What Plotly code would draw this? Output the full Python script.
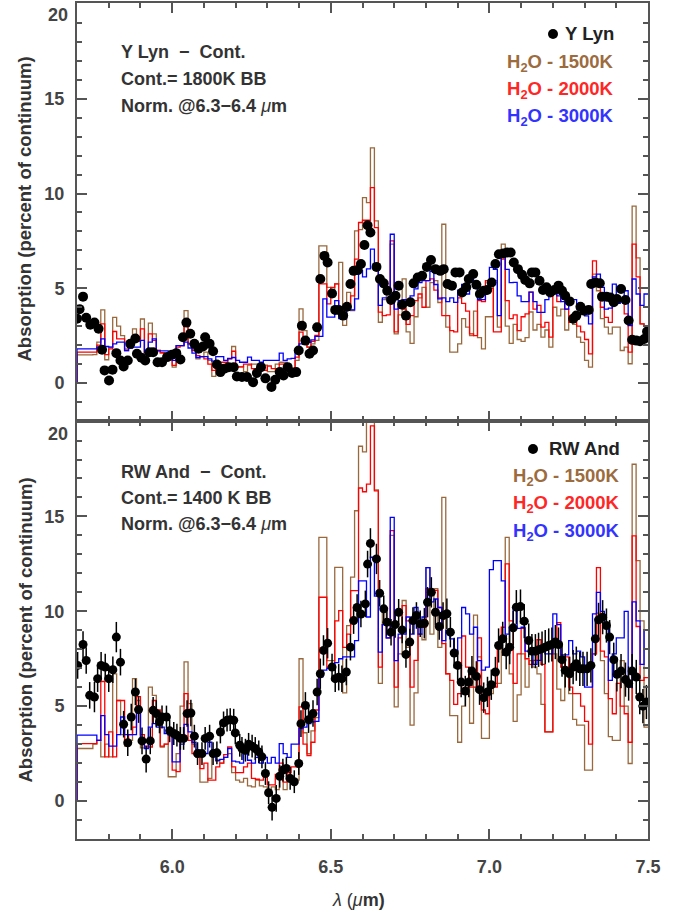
import plotly.graph_objects as go

# ---------------- data ----------------
LAM_MIN, LAM_MAX, BIN = 5.70, 7.50, 0.0125
edges = [round(LAM_MIN + BIN * i, 4) for i in range(145)]

# Top panel (Y Lyn) model spectra, one value per bin
top_1500 = [1.49,1.49,1.49,1.49,1.5,2.16,3.86,1.23,1.9,3.47,3.0,2.5,1.8,1.9,2.86,2.2,3.38,1.54,3.16,2.6,
            1.72,1.6,1.54,1.2,0.84,1.98,1.98,3.82,2.07,1.8,1.28,1.4,1.63,1.2,0.35,0.85,0.93,0.9,1.28,1.93,
            0.85,0.85,0.6,0.95,1.0,1.0,0.85,0.95,0.6,0.6,1.0,1.1,1.1,0.67,0.8,1.2,3.92,2.77,1.9,2.07,
            2.25,7.24,7.24,5.05,4.53,5.23,6.37,3.04,4.79,3.83,8.03,8.1,9.78,9.52,12.41,8.56,3.21,4.4,4.9,7.33,
            2.6,3.6,5.5,2.7,2.1,3.5,4.5,5.05,4.0,5.3,5.4,4.25,8.38,2.95,1.63,1.63,2.07,3.4,2.95,2.5,
            3.8,2.4,1.8,3.5,3.5,5.4,2.95,7.33,3.0,2.1,3.1,2.3,2.2,2.4,3.75,2.8,3.1,2.42,2.8,1.9,
            4.0,3.55,3.9,2.8,3.47,3.1,2.42,2.15,1.2,0.84,5.75,4.87,3.4,2.95,2.6,2.95,2.95,1.72,1.9,1.02,
            9.34,6.6,3.12,3.0]
top_2000 = [1.63,1.63,1.63,1.63,1.63,2.0,3.12,1.5,1.8,2.72,2.33,2.33,1.72,1.85,2.5,2.2,2.86,1.63,2.6,2.25,
            1.72,1.6,1.54,1.3,0.93,1.9,1.98,3.21,2.07,1.72,1.45,1.4,1.28,1.0,0.67,1.1,1.1,1.1,1.28,1.68,
            0.85,0.85,1.0,1.0,0.76,0.76,0.9,0.67,0.9,0.76,0.76,1.0,1.0,0.85,0.67,1.37,2.69,2.16,1.9,2.2,
            2.51,5.23,5.23,4.18,5.05,5.23,3.83,3.83,4.18,4.6,6.54,8.47,8.59,8.59,10.31,8.2,3.74,3.56,3.6,7.5,
            2.7,4.0,3.9,3.1,3.56,4.35,4.7,4.0,5.4,5.5,4.9,4.5,3.56,3.56,2.77,2.7,4.5,4.2,3.8,2.6,
            2.5,4.35,4.3,5.4,5.0,2.7,2.7,6.54,4.35,3.4,3.6,2.77,3.5,3.65,4.8,3.9,4.1,2.95,3.2,2.42,
            4.78,4.3,4.5,3.9,3.2,3.47,3.0,2.7,2.3,1.54,6.45,5.4,4.0,3.47,3.2,4.3,4.4,4.4,3.65,1.63,
            7.33,5.6,3.12,3.0]
top_3000 = [1.8,1.8,1.8,1.8,1.8,1.9,2.33,1.93,1.9,2.07,2.16,2.16,1.72,1.85,1.9,1.9,2.25,1.63,2.16,2.33,
            1.7,1.7,1.7,1.5,1.2,1.98,1.98,2.16,1.85,1.58,1.35,1.4,1.4,1.28,1.16,1.4,1.4,1.2,1.3,1.35,
            1.2,1.1,1.1,1.37,1.2,1.2,1.1,1.2,1.2,1.2,1.2,1.58,1.2,1.28,1.3,1.72,2.07,2.07,2.15,2.28,
            2.46,2.46,4.44,3.48,3.48,4.35,3.4,3.4,3.86,3.86,4.44,5.93,5.6,6.02,7.07,6.0,4.1,4.5,4.5,7.85,
            3.9,4.35,4.4,4.35,4.6,4.97,5.3,5.4,5.4,5.9,5.2,4.44,4.5,4.3,4.5,4.26,4.9,5.2,4.7,5.7,
            5.0,4.4,4.4,5.05,6.1,6.0,3.56,7.0,6.0,5.3,5.31,4.6,4.3,4.3,4.8,4.3,3.73,3.73,4.4,5.0,
            4.8,4.6,4.3,3.9,4.3,4.4,3.9,3.9,3.55,3.12,5.6,5.75,5.05,3.9,3.95,5.22,4.2,4.3,4.87,3.03,
            5.49,4.7,4.1,4.7]

# Bottom panel (RW And) model spectra
bot_1500 = [2.77,2.77,2.77,2.77,3.0,3.2,2.33,3.0,2.33,6.7,5.3,3.5,2.9,3.2,6.45,5.3,2.8,2.8,6.0,5.57,
            4.0,2.85,3.0,1.28,1.28,2.5,5.0,7.33,5.13,3.0,2.3,1.0,1.0,1.2,2.5,2.1,2.0,2.3,2.5,1.5,
            1.1,1.0,1.2,0.8,0.75,1.1,0.8,0.75,0.6,0.75,0.6,1.2,0.6,1.4,1.0,1.1,7.5,3.6,2.5,3.7,
            4.4,13.9,13.9,7.4,7.4,12.32,12.32,5.7,9.25,11.8,15.3,18.7,18.4,20.5,20.5,16.4,6.2,10.0,8.6,14.0,
            4.96,7.76,10.57,8.1,4.0,5.7,8.8,8.5,12.3,8.8,11.2,8.1,16.0,6.71,4.5,4.5,3.1,5.0,6.0,4.1,
            9.8,7.6,3.3,3.3,5.66,6.2,6.2,8.6,13.9,6.7,4.2,5.6,7.76,6.0,7.4,7.06,6.7,5.1,3.65,3.65,
            7.76,5.9,5.3,7.06,5.66,4.3,4.0,4.0,1.63,1.63,7.76,9.9,7.4,5.66,3.4,3.2,3.2,7.4,5.0,1.98,
            17.75,12.67,9.5,3.9]
bot_2000 = [3.03,3.03,3.03,3.03,3.03,3.2,6.3,2.33,3.65,2.33,5.3,5.3,3.2,3.5,3.9,5.5,3.5,2.9,2.85,5.3,
            4.8,2.9,3.0,3.56,1.63,1.55,3.5,5.66,3.2,2.5,2.5,1.71,2.0,1.1,1.1,1.8,2.0,2.45,2.85,1.8,
            1.5,1.5,1.8,2.0,1.2,1.15,1.1,1.3,0.85,0.85,1.4,2.0,1.0,1.5,1.8,1.8,4.96,3.0,2.4,3.1,
            4.8,10.74,10.74,7.06,7.06,9.5,10.04,8.1,8.8,11.09,11.09,16.5,16.3,16.7,19.77,16.35,7.06,9.3,8.6,14.25,
            6.0,8.6,10.3,9.5,6.0,7.41,9.5,9.16,11.2,11.1,11.1,10.2,8.3,6.71,6.36,5.1,5.66,8.7,7.06,6.0,
            6.0,8.6,4.8,4.6,6.0,6.0,8.1,9.16,12.5,9.5,6.2,7.76,9.1,7.5,7.2,7.41,8.5,7.2,3.65,3.65,
            8.46,9.4,7.06,7.6,6.0,5.66,5.66,5.0,4.2,3.0,7.76,12.3,7.9,7.6,5.4,4.6,6.2,5.0,4.6,3.1,
            13.98,9.2,6.36,6.5]
bot_3000 = [3.47,3.47,3.47,3.47,3.47,3.2,4.5,3.5,2.9,2.9,3.5,4.43,3.5,3.5,3.5,4.64,3.3,2.77,3.9,4.08,
            3.9,3.9,3.56,3.47,2.07,2.07,3.0,4.04,3.65,3.1,2.7,2.5,2.5,3.1,2.7,2.15,2.2,2.3,2.77,2.1,
            2.07,2.0,2.5,2.15,2.0,2.3,2.0,2.3,2.0,2.3,2.0,3.03,2.5,2.3,3.0,3.0,3.82,3.9,4.08,4.17,
            4.2,6.54,6.9,7.0,6.9,7.3,7.5,7.6,7.6,7.6,8.46,11.6,11.6,9.7,12.85,10.8,7.85,9.3,8.6,14.95,
            7.4,8.8,8.8,9.7,8.8,10.2,8.8,9.7,12.3,10.5,10.65,10.2,8.46,9.0,8.55,7.9,8.6,10.2,9.87,8.8,
            9.16,7.4,6.9,7.06,12.2,12.67,12.67,11.6,8.8,9.16,10.2,9.1,9.16,7.9,7.9,7.2,7.41,7.9,7.76,7.76,
            9.87,9.3,7.7,7.7,8.46,7.76,7.9,7.6,6.0,6.0,9.87,11.0,10.0,9.3,6.36,7.76,8.6,8.6,10.0,6.0,
            10.5,9.5,7.2,9.0]

# Observed absorption (data points)
ylyn_lam = [5.700,5.708,5.719,5.729,5.742,5.755,5.768,5.779,5.787,5.801,5.812,5.824,5.837,5.847,5.860,5.868,
            5.884,5.889,5.903,5.915,5.928,5.940,5.954,5.968,5.984,5.999,6.013,6.026,6.034,6.045,6.057,6.070,
            6.083,6.097,6.104,6.118,6.129,6.141,6.152,6.164,6.178,6.194,6.204,6.220,6.236,6.255,6.267,6.280,
            6.294,6.313,6.325,6.339,6.351,6.364,6.378,6.391,6.399,6.409,6.420,6.433,6.444,6.457,6.467,6.480,
            6.490,6.504,6.514,6.525,6.539,6.551,6.562,6.572,6.585,6.595,6.606,6.616,6.625,6.644,6.655,6.667,
            6.678,6.690,6.704,6.714,6.725,6.737,6.751,6.761,6.774,6.788,6.803,6.816,6.830,6.845,6.856,6.868,
            6.882,6.893,6.906,6.914,6.927,6.935,6.949,6.959,6.970,6.982,6.993,7.007,7.019,7.030,7.044,7.056,
            7.067,7.077,7.090,7.103,7.113,7.127,7.134,7.145,7.158,7.169,7.180,7.192,7.205,7.218,7.229,7.239,
            7.253,7.264,7.274,7.287,7.299,7.313,7.321,7.334,7.348,7.355,7.369,7.381,7.392,7.402,7.415,7.429,
            7.439,7.450,7.463,7.475,7.488,7.497]
ylyn_abs = [3.4,3.9,4.56,3.45,3.08,3.2,2.87,1.76,0.67,0.14,0.71,1.58,1.19,0.88,1.19,2.07,
            2.35,1.55,1.34,1.19,1.63,1.63,1.1,1.1,1.37,1.5,1.58,1.24,2.42,3.19,2.6,2.07,
            1.81,1.93,2.42,2.07,1.68,0.98,0.58,0.76,0.84,0.84,0.35,0.32,0.32,0.05,0.53,0.84,
            0.25,-0.2,0.18,0.58,0.4,0.84,0.53,0.58,1.72,3.03,2.24,1.55,1.72,2.94,5.49,6.71,
            6.36,4.73,3.86,3.86,3.56,4.03,5.23,5.92,5.96,6.28,7.28,8.33,7.94,6.13,5.49,5.26,
            4.87,4.38,4.61,5.14,4.14,3.56,4.26,5.26,5.57,5.66,6.13,6.49,6.01,5.92,6.01,5.23,
            5.14,5.84,5.84,4.78,5.05,5.49,5.75,5.19,4.7,4.87,4.91,5.31,6.28,6.8,6.84,6.89,
            6.89,6.36,6.01,5.71,5.44,5.26,5.84,5.84,5.4,4.91,5.05,4.78,4.91,5.14,4.87,4.61,
            4.31,3.39,3.56,4.03,3.82,3.86,5.23,5.31,5.26,4.56,4.56,4.52,4.26,4.44,4.96,4.38,
            3.3,2.28,2.24,2.21,2.33,2.72]

rwand_lam = [5.702,5.719,5.729,5.740,5.755,5.765,5.776,5.789,5.800,5.813,5.824,5.837,5.847,5.860,5.871,5.884,
             5.894,5.905,5.918,5.931,5.940,5.950,5.960,5.968,5.982,5.992,6.005,6.015,6.026,6.036,6.047,6.059,
             6.070,6.080,6.094,6.104,6.118,6.129,6.141,6.152,6.162,6.173,6.183,6.194,6.199,6.213,6.220,6.231,
             6.241,6.252,6.262,6.273,6.283,6.294,6.304,6.315,6.328,6.339,6.349,6.360,6.372,6.385,6.399,6.406,
             6.420,6.430,6.444,6.457,6.467,6.477,6.490,6.504,6.514,6.525,6.535,6.549,6.562,6.572,6.583,6.595,
             6.609,6.616,6.625,6.644,6.654,6.667,6.677,6.690,6.703,6.714,6.725,6.737,6.749,6.759,6.770,6.782,
             6.795,6.805,6.817,6.830,6.842,6.854,6.866,6.877,6.889,6.900,6.911,6.924,6.935,6.945,6.959,6.969,
             6.982,6.994,7.006,7.019,7.029,7.042,7.053,7.064,7.075,7.085,7.098,7.110,7.124,7.134,7.145,7.155,
             7.166,7.176,7.187,7.197,7.208,7.218,7.229,7.239,7.253,7.264,7.274,7.285,7.295,7.308,7.320,7.334,
             7.344,7.357,7.369,7.379,7.392,7.402,7.415,7.429,7.439,7.450,7.463,7.474,7.484,7.495]
rwand_abs = [7.15,8.25,7.41,5.57,5.48,6.45,7.15,7.06,6.45,6.92,8.64,7.32,4.05,3.07,4.43,5.75,
             4.82,3.17,2.21,3.17,4.78,4.61,4.17,4.43,4.43,3.7,3.56,3.47,3.3,3.3,4.61,4.64,
             3.42,2.5,2.5,3.3,3.42,2.5,2.54,3.64,4.12,4.26,4.29,4.26,3.59,2.94,2.77,2.68,
             2.99,2.89,2.77,2.59,2.33,1.45,0.44,-0.33,0.14,1.31,1.63,1.72,1.19,1.02,1.98,4.08,
             5.04,4.29,4.61,5.75,6.71,7.94,8.32,7.06,6.45,6.53,6.45,6.8,8.11,9.51,10.2,9.86,
             10.39,12.49,13.58,12.76,10.95,10.13,9.43,8.9,9.3,9.95,9.02,7.73,8.38,9.51,9.78,9.34,
             9.37,10.48,11.0,9.95,9.2,9.78,9.87,8.9,7.8,7.15,6.27,5.8,6.27,6.85,6.57,5.87,
             5.45,5.75,6.13,6.8,8.2,8.55,7.85,8.11,9.13,10.22,10.25,9.48,8.46,7.9,7.9,7.97,
             8.03,8.11,8.2,8.25,8.38,8.25,7.45,6.89,6.71,7.06,7.24,6.97,6.97,6.97,7.15,8.55,
             9.55,9.69,9.25,8.64,7.45,6.68,6.85,6.4,6.19,6.85,6.54,5.48,5.0,5.22]
rwand_err = [0.7,0.7,0.7,0.7,0.8,0.7,0.7,0.7,0.7,0.7,0.8,0.7,0.7,0.7,0.7,0.7,
             0.7,0.7,0.7,0.7,0.7,0.7,0.6,0.6,0.6,0.6,0.6,0.6,0.6,0.6,0.7,0.7,
             0.6,0.6,0.6,0.6,0.6,0.6,0.6,0.6,0.6,0.6,0.6,0.6,0.6,0.6,0.6,0.6,
             0.6,0.6,0.6,0.6,0.6,0.6,0.6,0.7,0.7,0.6,0.6,0.6,0.6,0.6,0.6,0.7,
             0.7,0.7,0.7,0.7,0.8,0.8,0.8,0.7,0.7,0.7,0.7,0.7,0.7,0.7,0.7,0.7,
             0.7,0.7,0.8,0.8,0.7,0.7,0.7,0.7,0.7,0.7,0.7,0.7,0.7,0.7,0.7,0.7,
             0.8,0.8,0.8,0.7,0.7,0.7,0.8,0.8,0.8,0.8,0.8,0.8,0.8,0.8,0.8,0.8,
             0.8,0.8,0.8,0.8,0.9,0.9,0.9,0.9,0.9,0.9,0.9,0.9,0.9,0.9,0.9,0.9,
             0.9,0.9,0.9,0.9,0.9,0.9,0.9,0.9,0.9,0.9,0.9,0.9,0.9,0.9,0.9,0.9,
             0.9,0.9,0.9,0.9,0.9,0.9,0.9,0.9,0.9,0.9,0.9,0.9,0.9,0.9]

x_ticks = [6.0, 6.5, 7.0, 7.5]
x_tick_text = ["6.0", "6.5", "7.0", "7.5"]
y_ticks = [0, 5, 10, 15]
y_tick_text = ["0", "5", "10", "15"]

C1500, C2000, C3000 = "#99683D", "#FF0000", "#0000FF"
T1500, T2000, T3000 = "#9C6B3E", "#FF2626", "#3333FF"
FRAME = "#555555"
TXT = "#333333"
LBL = "#444444"
FONT = "Liberation Sans, Arial, sans-serif"

fig = go.Figure()


def step_xy(vals):
    xs = [edges[0]] + edges
    ys = [0] + list(vals) + [vals[-1]]
    return xs, ys


for vals, col, ax in [(top_1500, C1500, "y2"), (top_2000, C2000, "y2"), (top_3000, C3000, "y2"),
                      (bot_1500, C1500, "y"), (bot_2000, C2000, "y"), (bot_3000, C3000, "y")]:
    xs, ys = step_xy(vals)
    fig.add_trace(go.Scatter(x=xs, y=ys, mode="lines", line=dict(color=col, width=1.3, shape="hv"),
                             xaxis="x2" if ax == "y2" else "x", yaxis=ax, showlegend=False,
                             hoverinfo="skip"))

fig.add_trace(go.Scatter(x=ylyn_lam, y=ylyn_abs, mode="markers", marker=dict(color="black", size=10),
                         xaxis="x2", yaxis="y2", showlegend=False))
fig.add_trace(go.Scatter(x=rwand_lam, y=rwand_abs, mode="markers", marker=dict(color="black", size=9),
                         error_y=dict(type="data", array=rwand_err, color="black", thickness=1.5, width=0),
                         xaxis="x", yaxis="y", showlegend=False))

axis_common = dict(showline=True, linecolor=FRAME, linewidth=2, mirror="allticks", ticks="inside",
                   tickcolor=FRAME, tickwidth=1.5, ticklen=10, showgrid=False, zeroline=False,
                   tickfont=dict(family=FONT, size=18, color=LBL, weight="bold"))
xminor = dict(ticks="inside", dtick=0.1, tick0=6.0, ticklen=5, tickcolor=FRAME, tickwidth=1.5, showgrid=False)
yminor = dict(ticks="inside", dtick=1, tick0=0, ticklen=5, tickcolor=FRAME, tickwidth=1.5, showgrid=False)

fig.update_layout(
    width=685, height=911, margin=dict(l=77, r=37, t=1, b=72),
    plot_bgcolor="white", paper_bgcolor="white",
    xaxis=dict(range=[LAM_MIN, LAM_MAX], tickvals=x_ticks, ticktext=x_tick_text, minor=xminor,
               anchor="y", ticklabelstandoff=10, **axis_common),
    xaxis2=dict(range=[LAM_MIN, LAM_MAX], tickvals=x_ticks, showticklabels=False, minor=xminor,
                anchor="y2", matches="x", **axis_common),
    yaxis=dict(range=[-2, 20.03], domain=[0, 0.5], tickvals=y_ticks, ticktext=y_tick_text, minor=yminor,
               anchor="x", ticklabelstandoff=7, **axis_common),
    yaxis2=dict(range=[-2, 20.05], domain=[0.5, 1], tickvals=y_ticks, ticktext=y_tick_text, minor=yminor,
                anchor="x2", ticklabelstandoff=7, **axis_common),
)


def px2x(px):
    return (px - 77) / 571.0


def py2y(py):
    return 1 - (py - 1) / 838.0


ann = []


def add_text(txt, px, py, color=TXT, xanchor="left", size=18, angle=0):
    ann.append(dict(text=txt, x=px2x(px), y=py2y(py), xref="paper", yref="paper", showarrow=False,
                    xanchor=xanchor, yanchor="middle", textangle=angle,
                    font=dict(family=FONT, size=size, color=color, weight="bold")))


MU = "<span style='font-weight:normal'><i>\u03bc</i></span>"

# panel notes
add_text("Y Lyn  \u2212  Cont.", 119, 50)
add_text("Cont.= 1800K BB", 119, 77)
add_text("Norm. @6.3\u22126.4 " + MU + "m", 119, 104)
add_text("RW And  \u2212  Cont.", 119, 471)
add_text("Cont.= 1400 K BB", 119, 497)
add_text("Norm. @6.3\u22126.4 " + MU + "m", 119, 523)

# legends
LS = 18.5
add_text("Y Lyn", 616, 32, color="#222222", xanchor="right", size=LS)
add_text("H<sub>2</sub>O - 1500K", 616, 61, color=T1500, xanchor="right", size=LS)
add_text("H<sub>2</sub>O - 2000K", 616, 88, color=T2000, xanchor="right", size=LS)
add_text("H<sub>2</sub>O - 3000K", 616, 115, color=T3000, xanchor="right", size=LS)
add_text("RW And", 622, 448, color="#222222", xanchor="right", size=LS)
add_text("H<sub>2</sub>O - 1500K", 622, 476, color=T1500, xanchor="right", size=LS)
add_text("H<sub>2</sub>O - 2000K", 622, 503, color=T2000, xanchor="right", size=LS)
add_text("H<sub>2</sub>O - 3000K", 622, 531, color=T3000, xanchor="right", size=LS)

# "20" tick labels, drawn just below the frame top like the reference
add_text("20", 70, 13, color=LBL, xanchor="right", size=18)
add_text("20", 70, 433, color=LBL, xanchor="right", size=18)

# axis titles
add_text("Absorption (percent of continuum)", 25, 208, xanchor="center", size=18.5, angle=-90)
add_text("Absorption (percent of continuum)", 25, 630, xanchor="center", size=18.5, angle=-90)
ann.append(dict(text="<span style='font-weight:normal'><i>\u03bb</i> (<i>\u03bc</i></span>m)",
                x=px2x(358), y=py2y(900),
                xref="paper", yref="paper", showarrow=False, xanchor="center", yanchor="middle",
                font=dict(family=FONT, size=18, color=TXT, weight="bold")))
fig.update_layout(annotations=ann)

# legend dots
shapes = []
for px, py in [(553, 32), (533, 448)]:
    shapes.append(dict(type="circle", xref="paper", yref="paper", xsizemode="pixel", ysizemode="pixel",
                       xanchor=px2x(px), yanchor=py2y(py), x0=-5, x1=5, y0=-5, y1=5,
                       fillcolor="black", line=dict(color="black", width=0)))
fig.update_layout(shapes=shapes)

fig.write_html("out.html", config={"displayModeBar": False},
               post_script="document.body.style.margin='0px';")
